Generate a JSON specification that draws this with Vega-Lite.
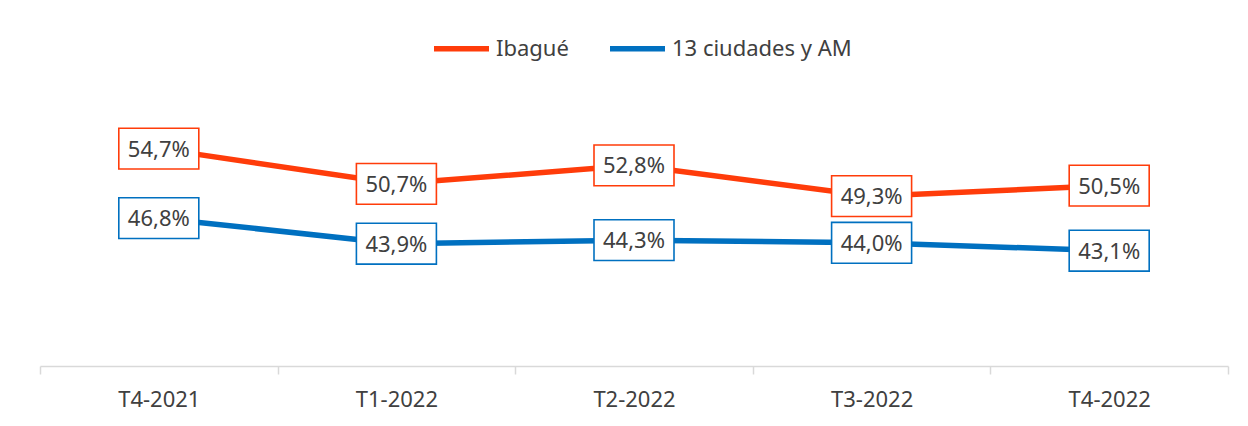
{
  "$schema": "https://vega.github.io/schema/vega-lite/v6.json",
  "autosize": {"type": "none"},
  "width": 1188,
  "height": 264,
  "padding": {"left": 40, "top": 102, "right": 20, "bottom": 60},
  "background": "white",
  "data": {
    "values": [
      {"periodo": "T4-2021", "serie": "Ibagué", "valor": 54.7, "etiqueta": "54,7%"},
      {"periodo": "T1-2022", "serie": "Ibagué", "valor": 50.7, "etiqueta": "50,7%"},
      {"periodo": "T2-2022", "serie": "Ibagué", "valor": 52.8, "etiqueta": "52,8%"},
      {"periodo": "T3-2022", "serie": "Ibagué", "valor": 49.3, "etiqueta": "49,3%"},
      {"periodo": "T4-2022", "serie": "Ibagué", "valor": 50.5, "etiqueta": "50,5%"},
      {"periodo": "T4-2021", "serie": "13 ciudades y AM", "valor": 46.8, "etiqueta": "46,8%"},
      {"periodo": "T1-2022", "serie": "13 ciudades y AM", "valor": 43.9, "etiqueta": "43,9%"},
      {"periodo": "T2-2022", "serie": "13 ciudades y AM", "valor": 44.3, "etiqueta": "44,3%"},
      {"periodo": "T3-2022", "serie": "13 ciudades y AM", "valor": 44.0, "etiqueta": "44,0%"},
      {"periodo": "T4-2022", "serie": "13 ciudades y AM", "valor": 43.1, "etiqueta": "43,1%"}
    ]
  },
  "encoding": {
    "x": {
      "field": "periodo",
      "type": "nominal",
      "sort": ["T4-2021", "T1-2022", "T2-2022", "T3-2022", "T4-2022"],
      "bandPosition": 0.5,
      "scale": {"type": "band", "paddingInner": 0, "paddingOuter": 0},
      "axis": {
        "title": null,
        "labelAngle": 0,
        "labelFontSize": 22,
        "labelColor": "#404040",
        "labelFont": "Noto Sans",
        "labelPadding": 15,
        "domainColor": "#d9d9d9",
        "domainWidth": 1.5,
        "tickColor": "#d9d9d9",
        "tickWidth": 1.5,
        "tickSize": 8,
        "tickBand": "extent",
        "grid": false
      }
    },
    "y": {
      "field": "valor",
      "type": "quantitative",
      "scale": {"domain": [30, 60], "zero": false, "nice": false},
      "axis": null
    }
  },
  "layer": [
    {
      "mark": {"type": "line", "strokeWidth": 5.5},
      "encoding": {
        "color": {
          "field": "serie",
          "type": "nominal",
          "scale": {"domain": ["Ibagué", "13 ciudades y AM"], "range": ["#FF3C0A", "#0070C0"]},
          "legend": {
            "title": null,
            "orient": "none",
            "direction": "horizontal",
            "legendX": 391,
            "legendY": -84,
            "symbolType": "stroke",
            "symbolSize": 3025,
            "symbolStrokeWidth": 5.5,
            "labelFontSize": 22,
            "labelFont": "Noto Sans",
            "labelColor": "#404040",
            "labelOffset": 4,
            "columnPadding": 30,
            "labelLimit": 400
          }
        }
      }
    },
    {
      "mark": {
        "type": "point",
        "shape": "M-1,-0.51H1V0.51H-1Z",
        "size": 6400,
        "filled": false,
        "fill": "white",
        "fillOpacity": 1,
        "opacity": 1,
        "strokeWidth": 1.6
      },
      "encoding": {
        "stroke": {
          "field": "serie",
          "type": "nominal",
          "scale": {"domain": ["Ibagué", "13 ciudades y AM"], "range": ["#FF3C0A", "#0070C0"]},
          "legend": null
        }
      }
    },
    {
      "mark": {
        "type": "text",
        "fontSize": 22,
        "font": "Noto Sans",
        "color": "#404040",
        "baseline": "middle",
        "align": "center",
        "dy": 1
      },
      "encoding": {
        "text": {"field": "etiqueta", "type": "nominal"}
      }
    }
  ],
  "config": {
    "view": {"stroke": null}
  }
}
